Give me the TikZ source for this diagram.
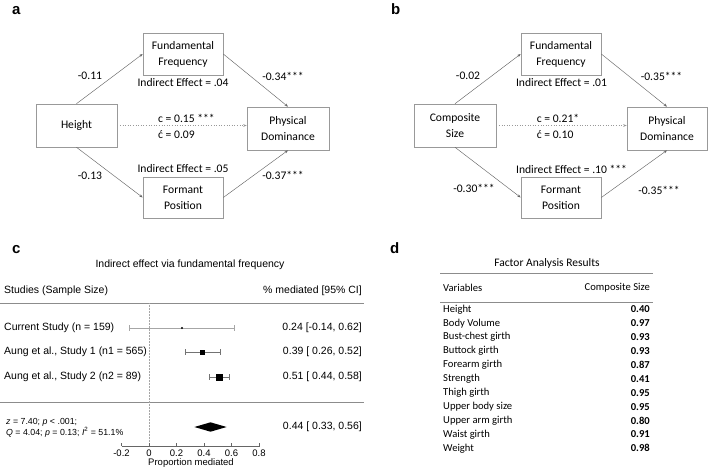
\documentclass[tikz,border=0pt]{standalone}
\usepackage{fontspec}
\setmainfont{Carlito}
\newfontfamily\arialf{Liberation Sans}
\usetikzlibrary{arrows.meta}
\newcommand\fsbox{\fontsize{11.6}{16}\selectfont}
\newcommand\fsfp{\arialf\fontsize{10.5}{12}\selectfont}
\newcommand\fstab{\fontsize{10.6}{12}\selectfont}
\begin{document}
\begin{tikzpicture}[x=1pt,y=-1pt,
  box/.style={draw=black!40, line width=0.6pt, minimum width=80pt, minimum height=42pt, align=center, font=\fsbox, inner sep=0pt, fill=white},
  arr/.style={-{Stealth[length=3.5pt,width=2.6pt]}, draw=black!60, line width=0.45pt},
  darr/.style={-{Stealth[length=3.5pt,width=2.6pt]}, draw=black!40, line width=0.6pt, dotted},
  lab/.style={font=\fsbox, inner sep=0pt},
  letter/.style={font=\arialf\bfseries\fontsize{15}{15}\selectfont, anchor=base west, inner sep=0pt},
  fptxt/.style={font=\fsfp, inner sep=0pt},
  axtxt/.style={font=\arialf\fontsize{9.5}{10}\selectfont, inner sep=0pt},
  tabtxt/.style={font=\fstab, inner sep=0pt},
  rule/.style={draw=black!45, line width=0.8pt},
  ebar/.style={draw=black!55, line width=0.5pt}
]
\useasboundingbox (0,0) rectangle (708,470);
% ---------- panel a ----------
\node[letter] (la) at (12,15) {a};
\node[box, minimum width=80pt, minimum height=42pt] (aff) at (183,54) {Fundamental\\Frequency};
\node[box, minimum width=81pt, minimum height=43pt] (ah) at (76.5,125.5) {Height};
\node[box, minimum width=82pt, minimum height=43pt] (apd) at (288,128.5) {Physical\\Dominance};
\node[box, minimum width=80pt, minimum height=41pt] (afp) at (183,197.5) {Formant\\Position};
\draw[arr] (ah.north) -- (aff.west);
\draw[arr] (aff.east) -- (apd.north);
\draw[arr] (ah.south) -- (afp.west);
\draw[arr] (afp.east) -- (apd.south);
\draw[darr] (ah.east) -- (ah.east -| apd.west);
\node[lab] (a1) at (90,76) {-0.11};
\node[lab] (a2) at (183,83) {Indirect Effect = .04};
\node[lab] (a3) at (283,76) {-0.34***};
\node[lab, anchor=west] (a4) at (158,118) {c = 0.15 ***};
\node[lab, anchor=west] (a5) at (158,135) {ć = 0.09};
\node[lab] (a6) at (183,169) {Indirect Effect = .05};
\node[lab] (a7) at (90,176) {-0.13};
\node[lab] (a8) at (283,175) {-0.37***};
% ---------- panel b ----------
\node[letter] (lb) at (391,15) {b};
\node[box, minimum width=80pt, minimum height=42pt] (bff) at (561,54) {Fundamental\\Frequency};
\node[box, minimum width=82pt, minimum height=43pt] (bcs) at (455,125.5) {Composite\\Size};
\node[box, minimum width=80pt, minimum height=43pt] (bpd) at (667,128.5) {Physical\\Dominance};
\node[box, minimum width=80pt, minimum height=41pt] (bfp) at (561,197.5) {Formant\\Position};
\draw[arr] (bcs.north) -- (bff.west);
\draw[arr] (bff.east) -- (bpd.north);
\draw[arr] (bcs.south) -- (bfp.west);
\draw[arr] (bfp.east) -- (bpd.south);
\draw[darr] (bcs.east) -- (bcs.east -| bpd.west);
\node[lab] (b1) at (468,76) {-0.02};
\node[lab] (b2) at (561.5,83) {Indirect Effect = .01};
\node[lab] (b3) at (661.5,76) {-0.35***};
\node[lab, anchor=west] (b4) at (536.7,118) {c = 0.21*};
\node[lab, anchor=west] (b5) at (536.7,135) {ć = 0.10};
\node[lab] (b6) at (571.5,169) {Indirect Effect = .10 ***};
\node[lab] (b7) at (474,188) {-0.30***};
\node[lab] (b8) at (659,190) {-0.35***};
% ---------- panel c ----------
\node[letter] (lc) at (12,253) {c};
\node[fptxt] (ctitle) at (190,265) {Indirect effect via fundamental frequency};
\node[fptxt, anchor=west] (chead1) at (4,291) {Studies (Sample Size)};
\node[fptxt, anchor=east] (chead2) at (362,291) {\% mediated [95\% CI]};
\coordinate (r1l) at (0,303); \coordinate (r1r) at (364,303);
\draw[rule] (r1l) -- (r1r);
\coordinate (r2l) at (0,402); \coordinate (r2r) at (364,402);
\draw[rule, line width=1pt] (r2l) -- (r2r);
\coordinate (z0) at (149,303); \coordinate (z1) at (149,446);
\draw[draw=black!35, line width=0.5pt, densely dotted] (z0) -- (z1);
% rows
\node[fptxt, anchor=west] (s1) at (4,328) {Current Study (n = 159)};
\node[fptxt, anchor=west] (s2) at (4,352) {Aung et al., Study 1 (n1 = 565)};
\node[fptxt, anchor=west] (s3) at (4,377) {Aung et al., Study 2 (n2 = 89)};
\node[fptxt, anchor=east] (v1) at (362,328) {0.24 [-0.14, 0.62]};
\node[fptxt, anchor=east] (v2) at (362,352) {0.39 [ 0.26, 0.52]};
\node[fptxt, anchor=east] (v3) at (362,377) {0.51 [ 0.44, 0.58]};
% error bars
\draw[ebar, draw=black!35] (129.7,328) -- (234.3,328);
\draw[ebar, draw=black!35] (129.7,325) -- (129.7,331);
\draw[ebar, draw=black!35] (234.3,325) -- (234.3,331);
\fill (182,328) circle (1.1pt);
\draw[ebar] (184.8,352) -- (220.5,352);
\draw[ebar] (184.8,349) -- (184.8,355);
\draw[ebar] (220.5,349) -- (220.5,355);
\fill (200.1,349.5) rectangle (205.1,354.5);
\draw[ebar] (209.5,377) -- (228.8,377);
\draw[ebar] (209.5,374) -- (209.5,380);
\draw[ebar] (228.8,374) -- (228.8,380);
\fill (216,373.5) rectangle (223,380.5);
% summary
\node[font=\arialf\fontsize{8.8}{10}\selectfont, inner sep=0pt, anchor=west] (st1) at (6,422) {\textit{z} = 7.40; \textit{p} {\textless} .001;};
\node[font=\arialf\fontsize{8.8}{10}\selectfont, inner sep=0pt, anchor=west] (st2) at (6,432) {\textit{Q} = 4.04; \textit{p} = 0.13; \textit{I}\textsuperscript{2} = 51.1\%};
\fill (194.4,427) -- (210.5,422.3) -- (226.6,427) -- (210.5,431.7) -- cycle;
\node[fptxt, anchor=east] (v4) at (362,427) {0.44 [ 0.33, 0.56]};
% axis
\draw[draw=black!60, line width=0.5pt] (121.5,446) -- (259.5,446);
\foreach \v/\t in {-0.2/-0.2,0/0,0.2/0.2,0.4/0.4,0.6/0.6,0.8/0.8}{
  \draw[draw=black!60, line width=0.5pt] ({149+137.5*\v},446) -- ({149+137.5*\v},443);
  \node[axtxt] at ({149+137.5*\v},453.5) {\t};
}
\node[axtxt] (axl) at (191,463.5) {Proportion mediated};
% ---------- panel d ----------
\node[letter] (ld) at (390,253) {d};
\node[font=\fontsize{11.5}{13}\selectfont, inner sep=0pt] (dtitle) at (547,263) {Factor Analysis Results};
\coordinate (d1l) at (440,273); \coordinate (d1r) at (653,273);
\draw[rule] (d1l) -- (d1r);
\node[tabtxt, anchor=west] (dh1) at (443,288) {Variables};
\node[tabtxt, anchor=east] (dh2) at (650,288) {Composite Size};
\coordinate (d2l) at (440,302); \coordinate (d2r) at (653,302);
\draw[rule] (d2l) -- (d2r);
\foreach \n/\val [count=\i from 0] in {Height/0.40,Body Volume/0.97,Bust-chest girth/0.93,Buttock girth/0.93,Forearm girth/0.87,Strength/0.41,Thigh girth/0.95,Upper body size/0.95,Upper arm girth/0.80,Waist girth/0.91,Weight/0.98}{
  \node[tabtxt, anchor=west] (dn\i) at (443,{309.3+13.9*\i}) {\n};
  \node[tabtxt, anchor=east, font=\fstab\bfseries] (dv\i) at (650,{309.3+13.9*\i}) {\val};
}
\end{tikzpicture}
\end{document}
